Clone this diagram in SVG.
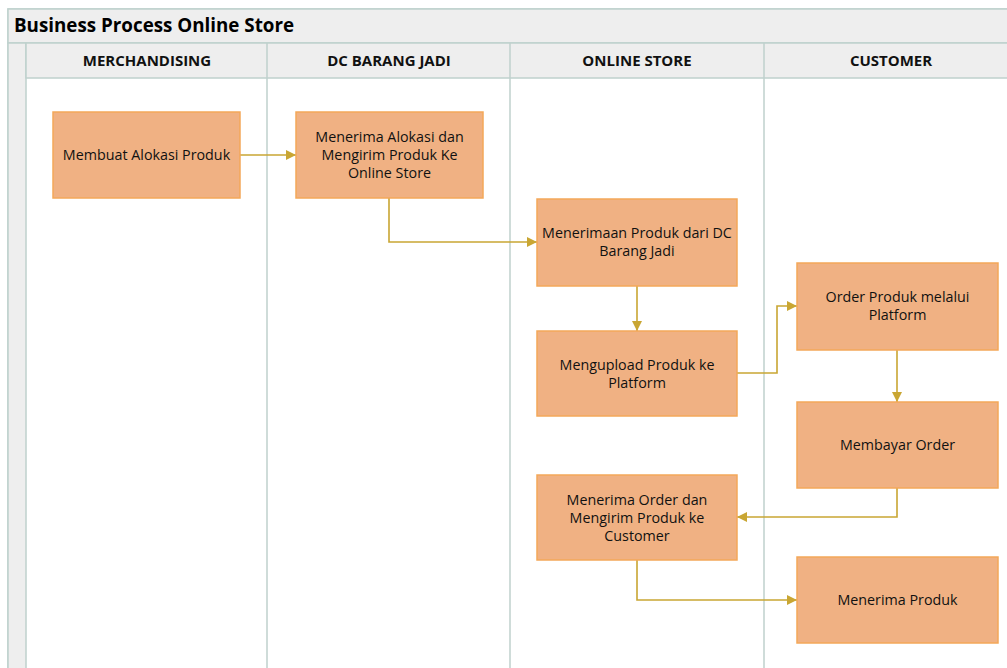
<svg xmlns="http://www.w3.org/2000/svg" width="1007" height="668" viewBox="0 0 1007 668">
<defs>
<style>
.frame{fill:#ffffff;stroke:#bfd1cd;stroke-width:1.5}
.bar{fill:#eeeeee;stroke:#bfd1cd;stroke-width:1.5}
.lane{stroke:#bfd1cd;stroke-width:1.5;fill:none}
.title{font-family:"Open Sans","Noto Sans",sans-serif;font-weight:bold;font-size:18.8px;fill:#000}
.hdr{font-family:"Open Sans","Noto Sans",sans-serif;font-weight:bold;font-size:15px;fill:#111;text-anchor:middle}
.box{fill:#f0b183;stroke:#f4a859;stroke-width:1.5}
.txt{font-family:"Open Sans","Noto Sans",sans-serif;font-size:14.3px;fill:#111;text-anchor:middle}
.con{fill:none;stroke:#c9a633;stroke-width:1.6}
</style>
<marker id="arr" viewBox="0 0 10 10" refX="10" refY="5" markerWidth="10" markerHeight="10" markerUnits="userSpaceOnUse" orient="auto">
<path d="M0,0 L10,5 L0,10 z" fill="#c9a633"/>
</marker>
</defs>
<rect x="0" y="0" width="1007" height="668" fill="#ffffff"/>
<g id="pool">
<rect class="frame" x="8" y="9" width="1010" height="670"/>
<rect class="bar" x="8" y="9" width="1010" height="34"/>
<rect class="bar" x="8" y="43" width="18" height="640"/>
<rect class="bar" x="26" y="43" width="990" height="35"/>
<line class="lane" x1="267" y1="43" x2="267" y2="668"/>
<line class="lane" x1="510" y1="43" x2="510" y2="668"/>
<line class="lane" x1="764" y1="43" x2="764" y2="668"/>
<text class="title" x="14" y="32">Business Process Online Store</text>
<text class="hdr" x="147" y="66">MERCHANDISING</text>
<text class="hdr" x="389" y="66">DC BARANG JADI</text>
<text class="hdr" x="637" y="66">ONLINE STORE</text>
<text class="hdr" x="891" y="66">CUSTOMER</text>
</g>
<g id="connectors">
<path class="con" d="M240,155 H296" marker-end="url(#arr)"/>
<path class="con" d="M389,198 V242 H537" marker-end="url(#arr)"/>
<path class="con" d="M637,286 V331" marker-end="url(#arr)"/>
<path class="con" d="M737,373 H777 V306 H797" marker-end="url(#arr)"/>
<path class="con" d="M897,350 V402" marker-end="url(#arr)"/>
<path class="con" d="M897,488 V517 H737" marker-end="url(#arr)"/>
<path class="con" d="M637,560 V600 H797" marker-end="url(#arr)"/>
</g>
<g id="n1"><rect class="box" x="53" y="112" width="187" height="86"/><text class="txt" x="146.5" y="160">Membuat Alokasi Produk</text></g>
<g id="n2"><rect class="box" x="296" y="112" width="187" height="86"/><text class="txt" x="389.5" y="142">Menerima Alokasi dan</text><text class="txt" x="389.5" y="160">Mengirim Produk Ke</text><text class="txt" x="389.5" y="178">Online Store</text></g>
<g id="n3"><rect class="box" x="537" y="199" width="200" height="87"/><text class="txt" x="637" y="238">Menerimaan Produk dari DC</text><text class="txt" x="637" y="256">Barang Jadi</text></g>
<g id="n4"><rect class="box" x="537" y="331" width="200" height="85"/><text class="txt" x="637" y="370">Mengupload Produk ke</text><text class="txt" x="637" y="388">Platform</text></g>
<g id="n5"><rect class="box" x="797" y="263" width="201" height="87"/><text class="txt" x="897.5" y="302">Order Produk melalui</text><text class="txt" x="897.5" y="320">Platform</text></g>
<g id="n6"><rect class="box" x="797" y="402" width="201" height="86"/><text class="txt" x="897.5" y="450">Membayar Order</text></g>
<g id="n7"><rect class="box" x="537" y="475" width="200" height="85"/><text class="txt" x="637" y="505">Menerima Order dan</text><text class="txt" x="637" y="523">Mengirim Produk ke</text><text class="txt" x="637" y="541">Customer</text></g>
<g id="n8"><rect class="box" x="797" y="557" width="201" height="86"/><text class="txt" x="897.5" y="605">Menerima Produk</text></g>
</svg>
